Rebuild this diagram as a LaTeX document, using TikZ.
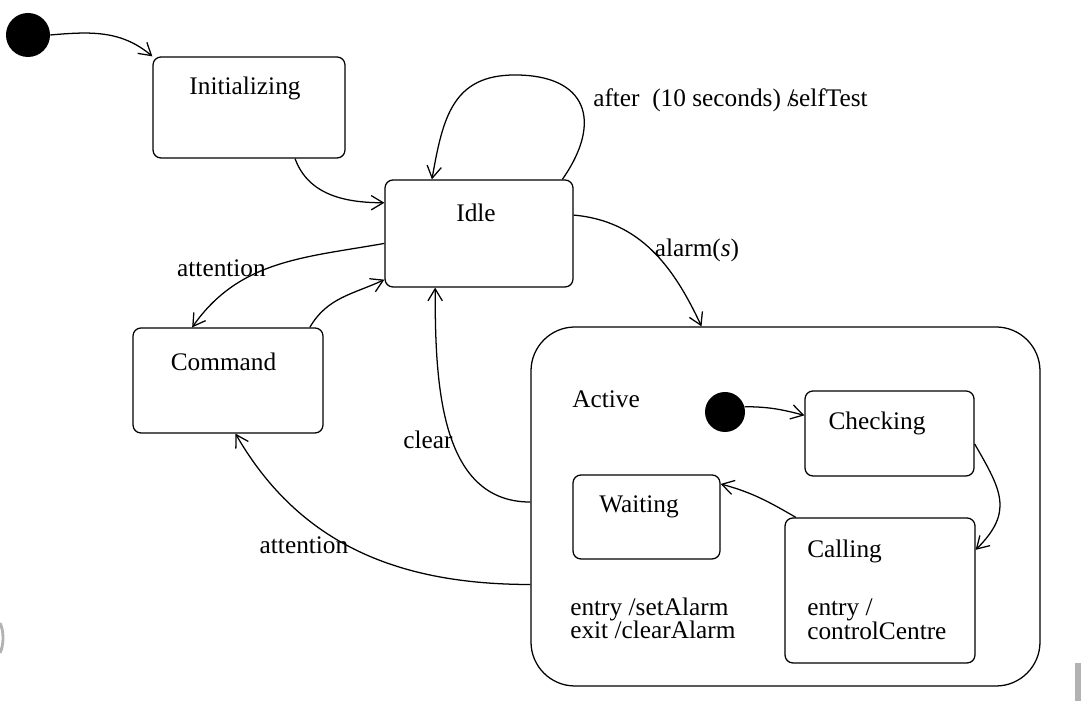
\documentclass[tikz,border=0pt]{standalone}
\usepackage{fontspec}
\setmainfont{Liberation Serif}
\usetikzlibrary{arrows.meta}
\tikzset{
  stateBox/.style args={#1 by #2}{draw, line width=0.9pt, rounded corners=0.2cm,
    minimum width=#1*0.025cm, minimum height=#2*0.025cm, inner sep=0pt},
  initDot/.style={circle, fill=black, inner sep=0pt, minimum size=#1},
  transArrow/.style={-{Straight Barb[length=3mm, width=3.6mm]}, line width=0.9pt},
  stateText/.style={inner sep=0pt},
  edgeLabel/.style={inner sep=0pt}
}

\begin{document}
\begin{tikzpicture}[x=0.025cm, y=0.025cm, font=\fontsize{18}{20}\selectfont]
  \useasboundingbox (0,0) rectangle (1081,701);

  % --- estados de topo ---
  \node[initDot=1.1cm] (start) at (28,666) {};
  \node[stateBox=192 by 101] (init) at (249,593.5) {};
  \node[stateText] (initText) at (245,613) {Initializing};

  \node[stateBox=188 by 107] (idle) at (479,467.5) {};
  \node[stateText] (idleText) at (476,488) {Idle};

  \node[stateBox=190 by 105] (cmd) at (228,320.5) {};
  \node[stateText] (cmdText) at (223.5,339) {Command};

  % --- estado composto Active ---
  \node[stateBox=509 by 359, rounded corners=1.1cm] (active) at (785.5,194.5) {};
  \node[stateText, anchor=west] (activeText) at (572,302) {Active};
  \node[initDot=1cm] (innerStart) at (725,289) {};

  \node[stateBox=169 by 85] (check) at (889.5,267.5) {};
  \node[stateText] (checkText) at (877,278) {Checking};

  \node[stateBox=147 by 84] (wait) at (646.5,184) {};
  \node[stateText] (waitText) at (639,194) {Waiting};

  \node[stateBox=190 by 145] (call) at (880,110.5) {};
  \node[stateText, anchor=west] (callText) at (807,150) {Calling};
  \node[stateText, anchor=base west] (callEntry) at (807,85) {entry /};
  \node[stateText, anchor=base west] (callDo) at (807,61) {controlCentre};

  \node[stateText, anchor=base west] (activeEntry) at (570,85) {entry /setAlarm};
  \node[stateText, anchor=base west] (activeExit) at (570,62) {exit /clearAlarm};

  % --- transicoes ---
  \draw[transArrow] (start.east) to[out=5, in=140] (init.north west);
  \draw[transArrow] (init.-48) to[out=-70, in=180] (idle.162);
  \draw[transArrow] (idle.33) to[out=55, in=0, looseness=1.6] (515,626)
    to[out=180, in=80, looseness=1.2] (idle.131);
  \draw[transArrow] (idle.11) to[out=-5, in=115] (active.115.5);
  \draw[transArrow] (idle.186) to[out=190, in=55] (cmd.124);
  \draw[transArrow] (cmd.33) to[out=60, in=205] (idle.206);
  \draw[transArrow] (active.179) to[out=180, in=-90] (idle.231);
  \draw[transArrow] (active.197.7) to[out=180, in=-60] (cmd.-82);
  \draw[transArrow] (innerStart.15) to[out=0, in=165] (check.168);
  \draw[transArrow] (check.-7) to[out=-60, in=45, looseness=1.3] (call.23);
  \draw[transArrow] (call.139) to[out=150, in=-15] (wait.24);

  % rotulos
  \node[edgeLabel, anchor=west] (selfLabel) at (593,601) {after~~(10 seconds) /\kern-0.2em selfTest};
  \node[edgeLabel] (alarmLabel) at (697,451) {alarm(\textit{s})};
  \node[edgeLabel] (attnUp) at (221.5,433) {attention};
  \node[edgeLabel] (clearLabel) at (428,261) {clear};
  \node[edgeLabel] (attnDown) at (304,156) {attention};

  % restos da margem
  \fill[gray!60] (1075,0) rectangle (1081,38);
  \draw[gray!60, line width=2pt] (0,78) .. controls (4,70) and (4,56) .. (0,48);
\end{tikzpicture}
\end{document}
